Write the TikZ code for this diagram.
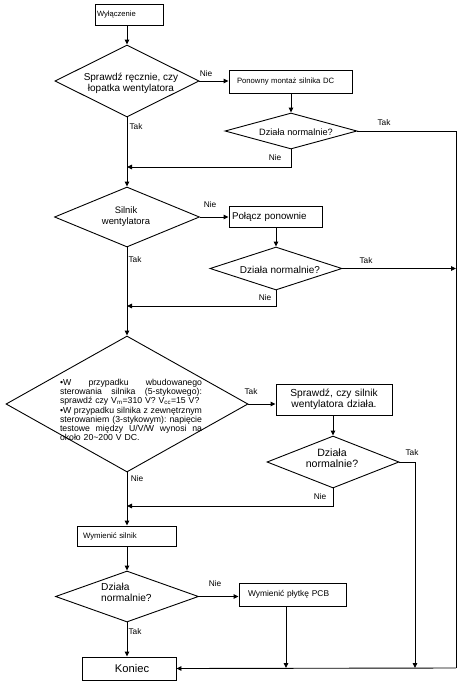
\documentclass[tikz,border=0pt]{standalone}
\usepackage{fontspec}
\setmainfont{Liberation Sans}
\usetikzlibrary{shapes.geometric,arrows.meta}
\newcommand{\fs}[2]{\fontsize{#1}{#2}\selectfont}
\newcommand{\jline}[1]{\leavevmode\hbox to 142pt{#1}}
\begin{document}
\begin{tikzpicture}[x=1pt,y=-1pt,
  box/.style={draw, rectangle, inner ysep=0pt, line width=0.9pt},
  dia/.style={draw, diamond, inner sep=0pt, line width=0.9pt},
  txt/.style={inner sep=0pt, align=center},
  lab/.style={inner sep=0pt, font=\fs{8.3}{9}},
  ln/.style={line width=0.9pt},
  arr/.style={line width=0.9pt, -{Triangle[length=5pt,width=4.5pt]}}]
\useasboundingbox (0,0) rectangle (474,683);

% boxes
\node[box, minimum width=68pt, minimum height=21pt, inner xsep=2pt, text width=64pt, align=left, font=\fs{7.6}{9}] (b0) at (129,14.5) {Wyłączenie};
\node[box, minimum width=123pt, minimum height=23pt, inner xsep=8pt, text width=107pt, align=left, font=\fs{7.7}{9}] (b1) at (290.5,81.5) {Ponowny montaż silnika DC};
\node[box, minimum width=93pt, minimum height=21pt, inner xsep=3pt, text width=87pt, align=left, font=\fs{9.8}{11}] (b2) at (275.5,216.5) {Połącz ponownie};
\node[box, minimum width=116pt, minimum height=31pt, inner xsep=0pt, text width=116pt, align=center, font=\fs{10.2}{10.5}] (b3) at (334,399.5) {Sprawdź, czy silnik\\wentylatora działa.};
\node[box, minimum width=99pt, minimum height=20pt, inner xsep=6pt, text width=87pt, align=left, font=\fs{7.8}{9}] (b4) at (126.5,536) {Wymienić silnik};
\node[box, minimum width=107pt, minimum height=23pt, inner xsep=9pt, text width=89pt, align=left, font=\fs{8.4}{9}] (b5) at (292.5,594.5) {Wymienić płytkę PCB};
\node[box, minimum width=94pt, minimum height=23pt, inner xsep=0pt, font=\fs{11.2}{12}] (b6) at (129,668.5) {\hspace*{6pt}Koniec};

% diamonds
\node[dia, minimum width=144pt, minimum height=72pt] (d1) at (127,81) {};
\node[dia, minimum width=132pt, minimum height=36pt] (d2) at (291,131) {};
\node[dia, minimum width=145pt, minimum height=60pt] (d3) at (127,217) {};
\node[dia, minimum width=132pt, minimum height=43pt] (d4) at (276,268.5) {};
\node[dia, minimum width=242pt, minimum height=136pt] (d5) at (127,404) {};
\node[dia, minimum width=132pt, minimum height=52pt] (d6) at (333,462) {};
\node[dia, minimum width=143pt, minimum height=51pt] (d7) at (127,596.5) {};

% diamond texts
\node[txt, font=\fs{10}{10.8}] (t1) at (131,83) {Sprawdź ręcznie, czy\\łopatka wentylatora};
\node[txt, font=\fs{9.2}{10}] (t2) at (296,132) {Działa normalnie?};
\node[txt, font=\fs{9.4}{11}] (t3) at (126,216.5) {Silnik\\wentylatora};
\node[txt, font=\fs{10}{11}] (t4) at (280,270) {Działa normalnie?};
\node[inner sep=0pt, align=left, text width=142pt, font=\fs{8.7}{9.2}] (t5) at (131,410) {%
\jline{•W\hfill przypadku\hfill wbudowanego}\\
\jline{sterowania\hfill silnika\hfill (5-stykowego):}\\
sprawdź czy V\textsubscript{m}=310 V? V\textsubscript{cc}=15 V?\\
\jline{•W\hfill przypadku\hfill silnika\hfill z\hfill zewnętrznym}\\
\jline{sterowaniem\hfill (3-stykowym):\hfill napięcie}\\
\jline{testowe\hfill między\hfill U/V/W\hfill wynosi\hfill na}\\
około 20\textasciitilde 200 V DC.};
\node[txt, font=\fs{10.6}{11}] (t6) at (332,458) {Działa\\normalnie?};
\node[inner sep=0pt, align=left, anchor=west, font=\fs{10.2}{11}] (t7) at (101,592) {Działa\\normalnie?};

% junction coordinates
\coordinate (j1) at (127,167);
\coordinate (j2) at (127,306);
\coordinate (j3) at (127,506);
\coordinate (rT) at (456,131);
\coordinate (rM) at (456,268.5);
\coordinate (rB) at (456,668);
\coordinate (r6) at (415,462);
\coordinate (r6b) at (415,668);
\coordinate (pcbT) at (286,606);
\coordinate (pcbB) at (286,668);

% connectors
\draw[arr] (b0.south -| d1.north) -- (d1.north);
\draw[arr] (d1.east) -- (d1.east -| b1.west);
\draw[arr] (b1.south -| d2.north) -- (d2.north);
\draw[ln] (d2.east) -- (rT) -- (rB);
\draw[arr] (d2.south) |- (j1);
\draw[arr] (d1.south) -- (d3.north);
\draw[arr] (d3.east) -- (d3.east -| b2.west);
\draw[arr] (b2.south -| d4.north) -- (d4.north);
\draw[arr] (d4.east) -- (rM);
\draw[arr] (d4.south) |- (j2);
\draw[arr] (d3.south) -- (d5.north);
\draw[arr] (d5.east) -- (d5.east -| b3.west);
\draw[arr] (b3.south -| d6.north) -- (d6.north);
\draw[ln] (d6.east) -- (r6);
\draw[arr] (r6) -- (r6b);
\draw[arr] (d6.south) |- (j3);
\draw[arr] (d5.south) -- (b4.north -| d5.south);
\draw[arr] (b4.south -| d7.north) -- (d7.north);
\draw[arr] (d7.east) -- (d7.east -| b5.west);
\draw[arr] (pcbT) -- (pcbB);
\draw[arr] (d7.south) -- (b6.north -| d7.south);
\draw[arr] (rB) -- (b6.east);

% labels
\node[lab] (l1) at (206,74) {Nie};
\node[lab] (l2) at (136,127) {Tak};
\node[lab] (l3) at (384,123) {Tak};
\node[lab] (l4) at (275,158) {Nie};
\node[lab] (l5) at (210,205) {Nie};
\node[lab] (l6) at (135,260) {Tak};
\node[lab] (l7) at (366,261) {Tak};
\node[lab] (l8) at (265,298) {Nie};
\node[lab] (l9) at (251,392) {Tak};
\node[lab] (l10) at (137,479) {Nie};
\node[lab] (l11) at (412,453) {Tak};
\node[lab] (l12) at (320,497) {Nie};
\node[lab] (l13) at (215,584) {Nie};
\node[lab] (l14) at (135,632) {Tak};
\end{tikzpicture}
\end{document}
